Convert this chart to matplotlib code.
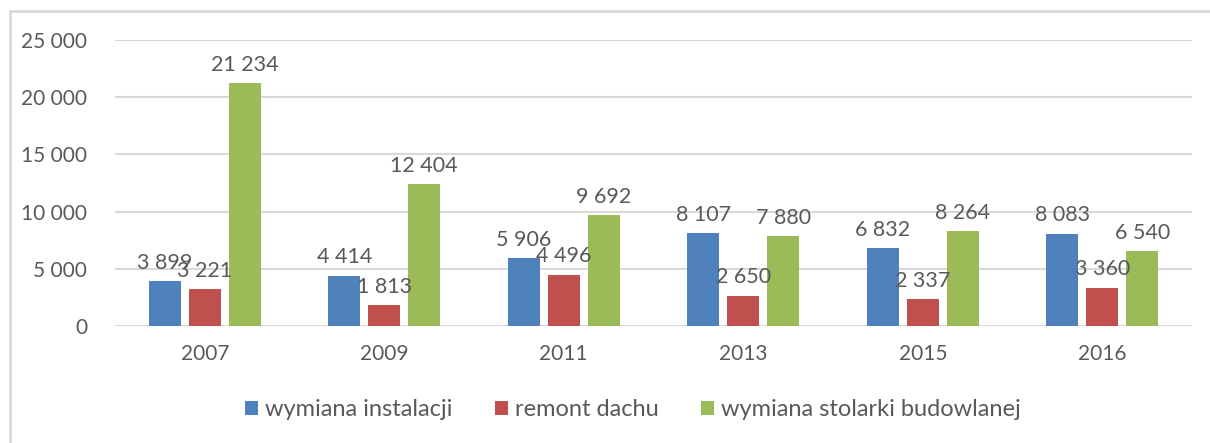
import numpy as np
import matplotlib.pyplot as plt
from matplotlib.patches import Rectangle

plt.rcParams['font.family'] = ['Lato', 'DejaVu Sans']

lata = ['2007', '2009', '2011', '2013', '2015', '2016']
instalacje = [3899, 4414, 5906, 8107, 6832, 8083]
dach = [3221, 1813, 4496, 2650, 2337, 3360]
stolarka = [21234, 12404, 9692, 7880, 8264, 6540]
serie = ['wymiana instalacji', 'remont dachu', 'wymiana stolarki budowlanej']
kolory = ['#4f81bd', '#c0504d', '#9bbb59']
yticks = [0, 5000, 10000, 15000, 20000, 25000]

def fmt(v):
    # separator tysięcy = spacja
    return f'{v:,}'.replace(',', ' ')

fig = plt.figure(figsize=(12.1, 4.43), dpi=100)
ax = fig.add_axes([115/1210, 117/443, 1077/1210, 286/443])

x = np.arange(len(lata))
szer = 0.178
krok = 0.223
tekst = '#595959'

for i, (vals, nazwa, kol) in enumerate(zip([instalacje, dach, stolarka], serie, kolory)):
    pos = x + (i - 1) * krok
    bars = ax.bar(pos, vals, width=szer, color=kol, label=nazwa, zorder=3)
    for b, v in zip(bars, vals):
        ax.annotate(fmt(v), (b.get_x() + b.get_width() / 2, v), xytext=(0, 6),
                    textcoords='offset points', ha='center', va='bottom',
                    fontsize=15.5, color=tekst, zorder=4)

ax.set_xlim(-0.5, len(lata) - 0.5)
ax.set_ylim(0, 25000)
ax.set_xticks(x)
ax.set_xticklabels(lata)
ax.set_yticks(yticks)
ax.set_yticklabels([fmt(t) for t in yticks])
ax.tick_params(length=0, labelsize=15, colors=tekst)
ax.tick_params(axis='x', pad=13)
ax.tick_params(axis='y', pad=20)
ax.grid(axis='y', color='#d9d9d9', linewidth=1.5, zorder=0)
for s in ax.spines.values():
    s.set_visible(False)

fig.legend(loc='center', bbox_to_anchor=(0.523, 33/443), ncol=3, frameon=False,
           fontsize=17, labelcolor=tekst, handlelength=0.55, handleheight=0.55,
           handletextpad=0.3, columnspacing=1.8)

# ramka wykresu
fig.patches.append(Rectangle((10/1210, -0.1), 1.2, (443 - 11)/443 + 0.1,
                             transform=fig.transFigure, fill=False,
                             edgecolor='#d9d9d9', linewidth=2))

fig.savefig('out.png', dpi=100)
